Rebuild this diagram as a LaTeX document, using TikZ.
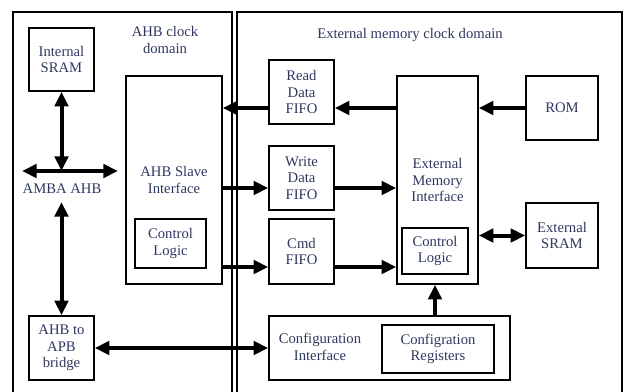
\documentclass[tikz,border=0pt]{standalone}
\usepackage{fontspec}
\setmainfont{Liberation Serif}
\usetikzlibrary{arrows.meta}

\definecolor{labelblue}{RGB}{45,55,95}

\tikzset{
  blk/.style={draw, line width=1.1pt, inner sep=0pt, align=center,
              text=labelblue, font=\fontsize{11}{12.5}\selectfont},
  sz/.style 2 args={minimum width=#1*0.75pt, minimum height=#2*0.75pt},
  lbl/.style={inner sep=0pt, align=center, text=labelblue,
              font=\fontsize{11}{12.5}\selectfont},
  bus/.style={line width=3pt, -{Triangle[length=11pt,width=10pt]}},
  bibus/.style={line width=3pt, {Triangle[length=11pt,width=10pt]}-{Triangle[length=11pt,width=10pt]}},
}

\begin{document}
\begin{tikzpicture}[x=0.75pt,y=-0.75pt]
  \useasboundingbox (0,0) rectangle (624,392);

  % clock domains, open at the bottom
  \draw[line width=1pt] (13,392) |- (232,12) -- (232,392);
  \draw[line width=1pt] (237,392) |- (622,12) -- (622,392);
  \node[lbl] (ahbdom) at (165,40) {AHB clock\\domain};
  \node[lbl] (extdom) at (410,35) {External memory clock domain};

  % AHB side
  \node[blk, sz={65}{63}] (isram) at (61.5,59.5) {Internal\\SRAM};
  \node[blk, sz={96}{208}] (ahbslave) at (174,180) {AHB Slave\\Interface};
  \node[blk, sz={71}{49}] (ahbctrl) at (170.5,243.5) {Control\\Logic};
  \node[blk, sz={65}{64}] (bridge) at (61.5,348) {AHB to\\APB\\bridge};
  \node[lbl] (amba) at (62,189) {AMBA AHB};

  % external memory side
  \node[blk, sz={65}{64}] (rdfifo) at (301.5,92) {Read\\Data\\FIFO};
  \node[blk, sz={65}{64}] (wrfifo) at (301.5,178) {Write\\Data\\FIFO};
  \node[blk, sz={65}{65}] (cmdfifo) at (301.5,251.5) {Cmd\\FIFO};
  \node[blk, sz={81}{208}] (emi) at (437.5,180) {External\\Memory\\Interface};
  \node[blk, sz={66}{46}] (emictrl) at (435,251) {Control\\Logic};
  \node[blk, sz={72}{64}] (rom) at (562,108) {ROM};
  \node[blk, sz={72}{65}] (xsram) at (562,235.5) {External\\SRAM};
  \node[blk, sz={241}{64}] (cfgif) at (389.5,348) {};
  \node[lbl] (cfgtxt) at (320,347) {Configuration\\Interface};
  \node[blk, sz={112}{48}] (cfgreg) at (438,349) {Configration\\Registers};

  % AMBA bus
  \coordinate (busL) at (22,171);
  \coordinate (busR) at (118,171);
  \coordinate (busdrop) at (61.5,202);
  \draw[bibus] (busL) -- (busR);
  \draw[bibus] (isram.south) -- (isram.south |- busL);
  \draw[bibus] (busdrop) -- (bridge.north);

  % data paths
  \coordinate (rd) at (0,108);
  \coordinate (wr) at (0,188);
  \coordinate (cmd) at (0,267);
  \draw[bus] (rom.west) -- (emi.east |- rom.west);
  \draw[bus] (emi.west |- rd) -- (rdfifo.east |- rd);
  \draw[bus] (rdfifo.west |- rd) -- (ahbslave.east |- rd);
  \draw[bus] (ahbslave.east |- wr) -- (wrfifo.west |- wr);
  \draw[bus] (wrfifo.east |- wr) -- (emi.west |- wr);
  \draw[bus] (ahbslave.east |- cmd) -- (cmdfifo.west |- cmd);
  \draw[bus] (cmdfifo.east |- cmd) -- (emi.west |- cmd);
  \draw[bibus] (emi.east |- xsram.west) -- (xsram.west);
  \draw[bus] (cfgif.north -| emictrl) -- (emi.south -| emictrl);
  \draw[bibus] (bridge.east) -- (cfgif.west);
\end{tikzpicture}
\end{document}
